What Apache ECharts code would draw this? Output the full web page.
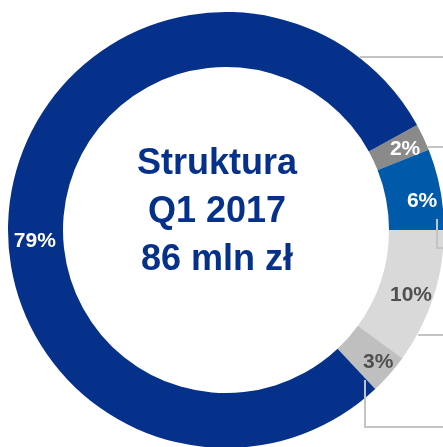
<!DOCTYPE html>
<html>
<head>
<meta charset="utf-8">
<script src="https://cdn.jsdelivr.net/npm/echarts@6/dist/echarts.min.js"></script>
<style>
html,body{margin:0;padding:0;background:#fff;}
#chart{width:443px;height:447px;}
</style>
</head>
<body>
<div id="chart"></div>
<script>
// Data
const categories = ['Segment B', 'Segment C', 'Segment D', 'Segment E', 'Segment A'];
const shares = [2, 6, 10, 3, 79];
const sliceColors = ['#8A8A8A', '#005AAA', '#D9D9D9', '#BFBFBF', '#06318A'];
const labelColors = ['#FFFFFF', '#FFFFFF', '#505050', '#505050', '#FFFFFF'];
const centerLines = ['Struktura', 'Q1 2017', '86 mln zł'];

const chart = echarts.init(document.getElementById('chart'), null, {renderer: 'canvas'});

const lineStyle = {stroke: '#C4C4C4', lineWidth: 2, fill: null};
const leader = pts => ({type: 'polyline', z: 100, shape: {points: pts}, style: lineStyle, silent: true});

const labelShift = [
  {dx: 4, dy: 2},
  {dx: 6, dy: 7},
  {dx: 1, dy: 5},
  {dx: 7, dy: 4},
  {dx: 0, dy: 41}
];

chart.setOption({
  animation: false,
  backgroundColor: '#FFFFFF',
  series: [{
    type: 'pie',
    center: [226, 230],
    radius: [163, 218],
    startAngle: 28.8,
    clockwise: true,
    avoidLabelOverlap: false,
    label: {
      show: true,
      position: 'inside',
      fontFamily: 'Liberation Sans, Arial, sans-serif',
      fontWeight: 'bold',
      fontSize: 21,
      formatter: p => p.value + '%'
    },
    labelLine: {show: false},
    labelLayout: params => labelShift[params.dataIndex] || {},
    emphasis: {disabled: true},
    data: categories.map((c, i) => ({
      name: c,
      value: shares[i],
      itemStyle: {color: sliceColors[i]},
      label: {color: labelColors[i]}
    }))
  }],
  graphic: [
    {
      type: 'text',
      x: 217,
      y: 212,
      z: 100,
      style: {
        text: centerLines.join('\n'),
        fill: '#06318A',
        font: 'bold 36px "Liberation Sans", Arial, sans-serif',
        lineHeight: 48,
        align: 'center',
        verticalAlign: 'middle'
      }
    },
    leader([[360, 57], [443, 57]]),
    leader([[428, 147], [443, 147]]),
    leader([[437, 219], [437, 248], [443, 248]]),
    leader([[418, 335], [443, 335]]),
    leader([[365, 380], [365, 427], [443, 427]])
  ]
});
</script>
</body>
</html>
